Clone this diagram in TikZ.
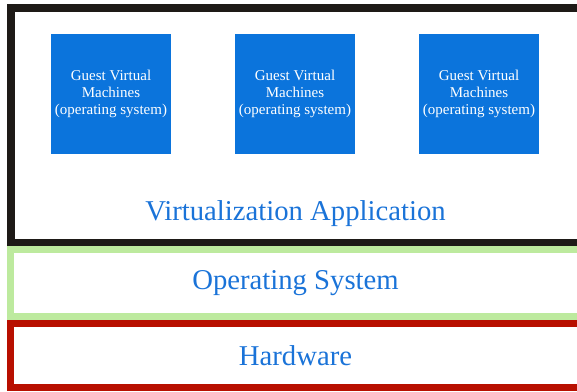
\documentclass[tikz,border=0pt]{standalone}
\usepackage{fontspec}
\setmainfont{Liberation Serif}
\usepackage{xcolor}
\usepackage{tikz}
\usetikzlibrary{positioning}

\definecolor{vmblue}{HTML}{0B74DC}
\definecolor{labelblue}{HTML}{1A73D8}
\definecolor{appblack}{HTML}{1E1A17}
\definecolor{osgreen}{HTML}{BDEA9E}
\definecolor{hwred}{HTML}{B80F00}

\begin{document}
\begin{tikzpicture}[x=1pt, y=-1pt,
    layer/.style={draw, minimum width=570pt, inner sep=0pt, text=labelblue,
                  font=\fontsize{28.7}{34}\selectfont},
    guest/.style={fill=vmblue, text=white, minimum width=120pt, minimum height=120pt,
                  inner sep=0pt, outer sep=0pt, align=center, font=\fontsize{15}{17}\selectfont}
]
\useasboundingbox (0,0) rectangle (577,391);
% stacked layers
\node[layer, draw=appblack, line width=7.5pt, minimum width=569.5pt, minimum height=234.5pt] (app) at (295.5,125) {};
\node[layer, draw=osgreen, line width=7pt, minimum height=67pt, below=0pt of app] (os) {Operating System};
\node[layer, draw=hwred, line width=7pt, minimum height=64pt, below=0pt of os] (hw) {Hardware};
% guest machines
\node[guest] (vm1) at (111,94) {Guest Virtual\\Machines\\(operating system)};
\node[guest, right=64pt of vm1] (vm2) {Guest Virtual\\Machines\\(operating system)};
\node[guest, right=64pt of vm2] (vm3) {Guest Virtual\\Machines\\(operating system)};
\node[text=labelblue, font=\fontsize{28.7}{34}\selectfont] (virt) at (295.5,213.5) {Virtualization Application};
\end{tikzpicture}
\end{document}
